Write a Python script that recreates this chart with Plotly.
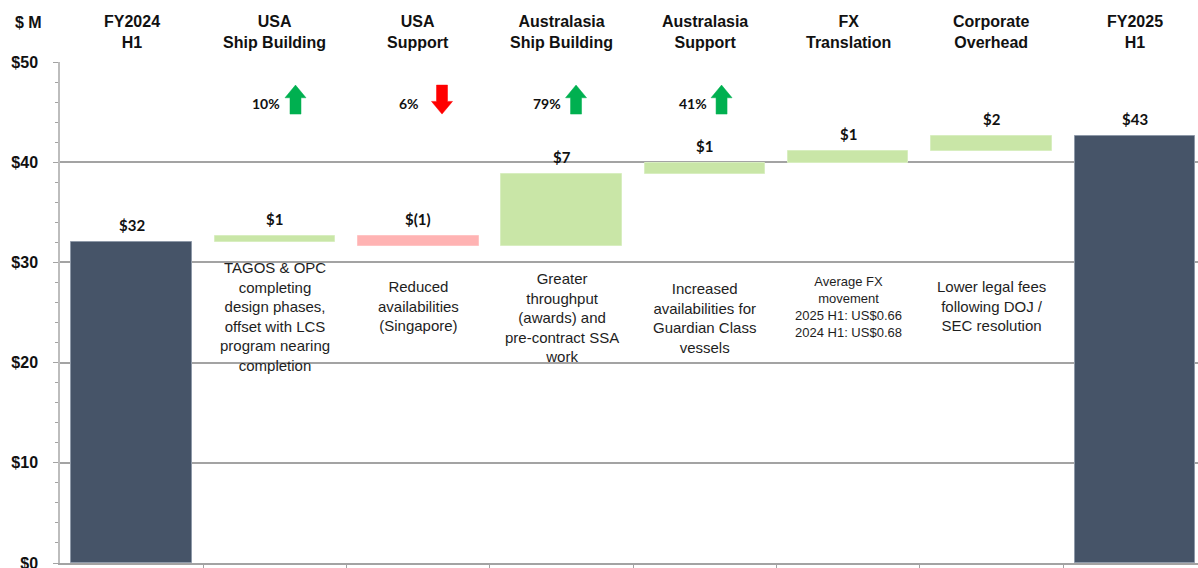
import plotly.graph_objects as go

# ---------------- data ----------------
header_line1 = ["FY2024", "USA", "USA", "Australasia", "Australasia", "FX", "Corporate", "FY2025"]
header_line2 = ["H1", "Ship Building", "Support", "Ship Building", "Support", "Translation", "Overhead", "H1"]
start_value = 32.0
deltas = [0.65, -1.0, 7.2, 1.1, 1.2, 1.5]
end_value = 42.65
value_labels = ["$32", "$1", "$(1)", "$7", "$1", "$1", "$2", "$43"]
pct_labels = ["10%", "6%", "79%", "41%"]
pct_direction = ["up", "down", "up", "up"]
descriptions = [
    "",
    "TAGOS & OPC<br>completing<br>design phases,<br>offset with LCS<br>program nearing<br>completion",
    "Reduced<br>availabilities<br>(Singapore)",
    "Greater<br>throughput<br>(awards) and<br>pre-contract SSA<br>work",
    "Increased<br>availabilities for<br>Guardian Class<br>vessels",
    "Average FX<br>movement<br>2025 H1: US$0.66<br>2024 H1: US$0.68",
    "Lower legal fees<br>following DOJ /<br>SEC resolution",
    "",
]
y_ticks = [0, 10, 20, 30, 40, 50]

# ---------------- layout helpers (positions / styles) ----------------
desc_y = [None, 24.56, 25.65, 24.46, 24.5, 25.58, 25.6, None]
desc_size = [15, 15, 15, 15, 15, 13, 15, 15]
pct_y = 45.9
arrow_y = 46.25
arrow_dx = [20.5, 23.7, 14.4, 16.6]
pct_dx = [7, 3, 1.5, 4]

DARK = "#465468"
GREEN = "#C9E6A7"
RED = "#FFB3B3"
GRID = "#A3A3A3"
ARIAL = "Arial, Liberation Sans, sans-serif"
CAL = "Lato, Carlito, sans-serif"

n = len(header_line1)
xs = list(range(n))

# compute bar bases / heights
bases, heights, colors, tops = [], [], [], []
bases.append(0); heights.append(start_value); colors.append(DARK); tops.append(start_value)
running = start_value
for d in deltas:
    lo = min(running, running + d)
    bases.append(lo); heights.append(abs(d))
    colors.append(GREEN if d >= 0 else RED)
    tops.append(max(running, running + d))
    running += d
bases.append(0); heights.append(end_value); colors.append(DARK); tops.append(end_value)

line_colors = ["#8E99A8" if c == DARK else ("#D8EEC0" if c == GREEN else "#FFC4C4") for c in colors]

fig = go.Figure()
fig.add_trace(go.Bar(
    x=xs, y=heights, base=bases, width=0.84,
    marker=dict(color=colors, line=dict(color=line_colors, width=1)),
    hoverinfo="skip", showlegend=False,
))

annotations = []
# value labels
for i in xs:
    annotations.append(dict(x=i, y=tops[i], xref="x", yref="y", text="<b>%s</b>" % value_labels[i],
                            showarrow=False, yshift=17, yanchor="middle",
                            font=dict(family=CAL, size=15, color="#111111")))
# headers
for i in xs:
    annotations.append(dict(x=i, y=1 + (62 - 31.5) / 501, xref="x", yref="paper",
                            text="<b>%s<br>%s</b>" % (header_line1[i], header_line2[i]),
                            showarrow=False, yanchor="middle",
                            font=dict(family=ARIAL, size=16, color="#111111")))
annotations.append(dict(x=(28 - 60) / 1138, y=1 + (62 - 22) / 501, xref="paper", yref="paper",
                        text="<b>$ M</b>", showarrow=False, yanchor="middle", xanchor="center",
                        font=dict(family=ARIAL, size=16, color="#111111")))
# descriptions
for i in xs:
    if descriptions[i]:
        annotations.append(dict(x=i, y=desc_y[i], xref="x", yref="y", text=descriptions[i],
                                showarrow=False, yanchor="middle", align="center",
                                font=dict(family=ARIAL, size=desc_size[i], color="#1E1E1E")))

shapes = []
up_path = "M {a},-14.5 L {b},-14.5 L {b},1.8 L {c},1.8 L {m},14.5 L {d},1.8 L {a},1.8 Z"
down_path = "M {a},14.5 L {b},14.5 L {b},-1.8 L {c},-1.8 L {m},-14.5 L {d},-1.8 L {a},-1.8 Z"
for k, lab in enumerate(pct_labels):
    cat = k + 1
    annotations.append(dict(x=cat, y=pct_y, xref="x", yref="y", text="<b>%s</b>" % lab,
                            showarrow=False, xanchor="right", yanchor="middle", xshift=pct_dx[k],
                            font=dict(family=CAL, size=14, color="#111111")))
    dx = arrow_dx[k]
    tpl = up_path if pct_direction[k] == "up" else down_path
    path = tpl.format(a=dx - 5.5, b=dx + 5.5, c=dx + 10.5, d=dx - 10.5, m=dx)
    col = "#00B050" if pct_direction[k] == "up" else "#FF0000"
    shapes.append(dict(type="path", xref="x", yref="y", xsizemode="pixel", ysizemode="pixel",
                       xanchor=cat, yanchor=arrow_y, path=path,
                       fillcolor=col, line=dict(color=col, width=0.5)))

fig.update_layout(
    width=1198, height=568,
    margin=dict(l=60, r=0, t=62, b=5, autoexpand=False),
    paper_bgcolor="white", plot_bgcolor="white",
    bargap=0,
    annotations=annotations, shapes=shapes,
    xaxis=dict(range=[-0.5, 7.44], tickmode="array", tickvals=[i + 0.5 for i in range(n - 1)],
               showticklabels=False, ticks="outside", ticklen=5, tickcolor=GRID, tickwidth=1.3,
               showline=True, linecolor=GRID, linewidth=1.5, showgrid=False, zeroline=False,
               automargin=False, fixedrange=True),
    yaxis=dict(range=[0, 50], tickmode="array", tickvals=y_ticks,
               ticktext=["$%d" % v for v in y_ticks],
               tickfont=dict(family=ARIAL, size=16, color="#111111", weight="bold"),
               ticks="outside", ticklen=5, tickcolor=GRID, tickwidth=1.3, ticklabelstandoff=12,
               ticklabeloverflow="allow", automargin=False,
               showline=True, linecolor="#BDBDBD", linewidth=1.5,
               showgrid=True, gridcolor=GRID, gridwidth=1.5, zeroline=False,
               minor=dict(dtick=2, ticks="outside", ticklen=3, tickcolor=GRID, showgrid=False),
               fixedrange=True),
)

fig.write_html("out.html", config={"displayModeBar": False},
               post_script="document.body.style.margin='0px';document.body.style.overflow='hidden';")
